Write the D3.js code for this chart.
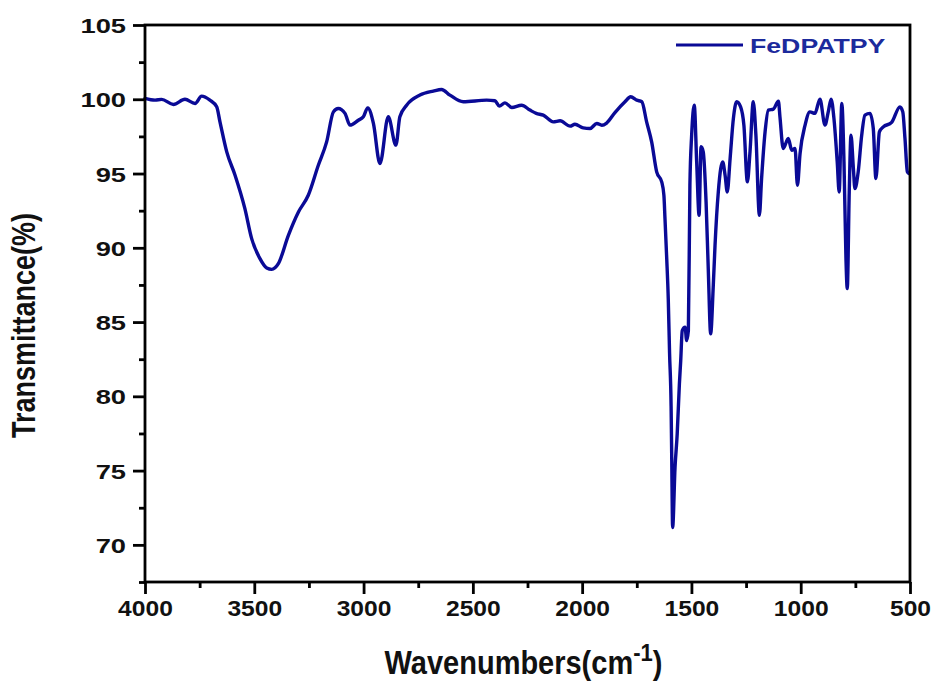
<!DOCTYPE html>
<html>
<head>
<meta charset="utf-8">
<script src="https://cdn.jsdelivr.net/npm/d3@7"></script>
<style>
  html, body { margin: 0; padding: 0; background: #fff; }
  svg { display: block; }
  text { font-family: "Liberation Sans", Arial, sans-serif; font-weight: bold; }
</style>
</head>
<body>
<svg id="chart" width="934" height="682"></svg>
<script>
// FT-IR spectrum of FeDPATPY
const seriesName = "FeDPATPY";
const wavenumber = [
  4000, 3954, 3924, 3870, 3817, 3771, 3741, 3703, 3672, 3657, 3626, 3588, 3543, 3512,
  3474, 3443, 3420, 3390, 3344, 3298, 3253, 3207, 3169, 3138, 3116, 3085, 3062, 3024,
  3001, 2981, 2955, 2925, 2887, 2852, 2834, 2803, 2742, 2681, 2643, 2605, 2544, 2437,
  2399, 2379, 2353, 2322, 2277, 2239, 2210, 2178, 2132, 2101, 2055, 2033, 1995, 1964,
  1933, 1910, 1888, 1850, 1804, 1778, 1750, 1727, 1705, 1682, 1659, 1636, 1626, 1621,
  1613, 1606, 1600, 1593, 1590, 1586, 1575, 1565, 1555, 1549, 1542, 1529, 1522, 1514,
  1507, 1499, 1487, 1476, 1465, 1456, 1446, 1433, 1423, 1412, 1400, 1392, 1377, 1366,
  1357, 1346, 1336, 1323, 1308, 1293, 1275, 1260, 1244, 1232, 1217, 1205, 1189, 1179,
  1163, 1148, 1125, 1102, 1095, 1080, 1057, 1041, 1026, 1015, 1003, 980, 958, 935,
  912, 889, 874, 861, 848, 833, 824, 812, 802, 793, 787, 778, 770, 759, 752, 737,
  721, 706, 683, 668, 656, 640, 622, 584, 546, 533, 523, 512, 505
];
const transmittance = [
  100.06, 99.94, 99.99, 99.65, 100.0, 99.72, 100.21, 99.94, 99.49, 98.48, 96.46, 94.89, 92.64, 90.62,
  89.27, 88.64, 88.55, 88.93, 90.84, 92.41, 93.54, 95.56, 97.13, 99.15, 99.38, 99.05, 98.26, 98.59,
  98.82, 99.42, 98.37, 95.67, 98.82, 96.91, 98.82, 99.6, 100.28, 100.55, 100.66, 100.28, 99.83, 99.94,
  99.9, 99.54, 99.76, 99.45, 99.6, 99.27, 99.05, 98.93, 98.48, 98.55, 98.19, 98.32, 98.07, 98.03,
  98.37, 98.25, 98.4, 99.1, 99.83, 100.17, 99.94, 99.83, 98.48, 97.13, 95.11, 94.44, 93.54, 91.97,
  89.27, 86.57, 82.9, 79.3, 75.7, 71.17, 75.22, 77.49, 80.86, 82.41, 84.43, 84.66, 83.76, 84.43,
  94.2, 97.58, 99.6, 95.78, 92.19, 96.8, 96.46, 93.09, 88.59, 84.21, 87.47, 90.17, 93.76, 95.33,
  95.78, 94.89, 93.76, 96.01, 98.71, 99.83, 99.49, 98.26, 94.44, 96.46, 99.83, 97.58, 92.19, 94.66,
  97.81, 99.27, 99.34, 99.87, 98.82, 96.69, 97.36, 96.57, 96.69, 94.21, 96.35, 98.26, 99.15, 99.05,
  100.01, 98.26, 99.15, 100.01, 98.71, 95.78, 93.76, 99.72, 95.78, 89.27, 87.25, 93.76, 97.58, 95.33, 93.99, 95.11,
  97.58, 98.93, 99.05, 98.03, 94.66, 97.81, 98.14, 98.44, 99.49, 99.15, 97.36, 95.11, 95.0
];
const xTicks = [4000, 3500, 3000, 2500, 2000, 1500, 1000, 500];
const yTicks = [70, 75, 80, 85, 90, 95, 100, 105];
const xLabel = "Wavenumbers(cm";
const xLabelSup = "-1";
const yLabel = "Transmittance(%)";

const lineColor = "#0a0a96";
const W = 934, H = 682;
const margin = { top: 25, right: 24, bottom: 100, left: 145 };
const iw = W - margin.left - margin.right;
const ih = H - margin.top - margin.bottom;

const svg = d3.select("#chart");
const g = svg.append("g").attr("transform", `translate(${margin.left},${margin.top})`);

const x = d3.scaleLinear().domain([4000, 500]).range([0, iw]);
const y = d3.scaleLinear().domain([67.5, 105]).range([ih, 0]);

const data = wavenumber.map((w, i) => ({ w, t: transmittance[i] }));

// spectrum trace
g.append("path")
  .datum(data)
  .attr("fill", "none")
  .attr("stroke", lineColor)
  .attr("stroke-width", 3.4)
  .attr("stroke-linejoin", "round")
  .attr("stroke-linecap", "round")
  .attr("d", d3.line().x(d => x(d.w)).y(d => y(d.t)).curve(d3.curveMonotoneX));

// minor ticks
const xMinor = d3.range(4000, 499, -250).filter(v => !xTicks.includes(v));
const yMinor = d3.range(67.5, 105.01, 2.5).filter(v => !yTicks.includes(v));

const axisStroke = 2.8;

const xAxisG = g.append("g").attr("transform", `translate(0,${ih})`)
  .call(d3.axisBottom(x).tickValues(xTicks).tickFormat(d3.format("d")).tickSizeInner(12).tickSizeOuter(0).tickPadding(6));
g.append("g").attr("transform", `translate(0,${ih})`)
  .call(d3.axisBottom(x).tickValues(xMinor).tickFormat("").tickSizeInner(6).tickSizeOuter(0))
  .call(a => a.select(".domain").remove());

const yAxisG = g.append("g")
  .call(d3.axisLeft(y).tickValues(yTicks).tickFormat(d3.format("d")).tickSizeInner(12).tickSizeOuter(0).tickPadding(6));
g.append("g")
  .call(d3.axisLeft(y).tickValues(yMinor).tickFormat("").tickSizeInner(6).tickSizeOuter(0))
  .call(a => a.select(".domain").remove());

svg.selectAll(".tick line").attr("stroke", "#000").attr("stroke-width", axisStroke);
svg.selectAll(".domain").remove();

xAxisG.selectAll(".tick text")
  .attr("y", null).attr("dy", null)
  .attr("transform", "translate(0,34) scale(1.12,1)")
  .attr("font-size", 22).attr("fill", "#111");

yAxisG.selectAll(".tick text")
  .attr("x", null).attr("dy", null)
  .attr("transform", "translate(-19,7.5) scale(1.3,1)")
  .attr("font-size", 21).attr("fill", "#111");

// frame
g.append("rect")
  .attr("x", 0).attr("y", 0).attr("width", iw).attr("height", ih)
  .attr("fill", "none").attr("stroke", "#000").attr("stroke-width", axisStroke);

// axis titles
const xt = svg.append("text")
  .attr("transform", `translate(${margin.left + iw / 2 - 4},${H - 8}) scale(1.16,1.3)`)
  .attr("text-anchor", "middle")
  .attr("font-size", 25)
  .attr("fill", "#111");
xt.append("tspan").text(xLabel);
xt.append("tspan").attr("dy", -10).attr("font-size", 19).text(xLabelSup);
xt.append("tspan").attr("dy", 10).text(")");

svg.append("text")
  .attr("transform", `translate(35,${margin.top + ih / 2 + 22}) scale(1.2,1) rotate(-90)`)
  .attr("text-anchor", "middle")
  .attr("font-size", 27)
  .attr("fill", "#111")
  .text(yLabel);

// legend
const lg = svg.append("g").attr("transform", "translate(676,45)");
lg.append("line").attr("x1", 0).attr("x2", 67).attr("y1", 0).attr("y2", 0)
  .attr("stroke", lineColor).attr("stroke-width", 3.2);
lg.append("text")
  .attr("transform", "translate(74,8) scale(1.27,1)")
  .attr("font-size", 21)
  .attr("fill", "#1c2a9c")
  .text(seriesName);
</script>
</body>
</html>
